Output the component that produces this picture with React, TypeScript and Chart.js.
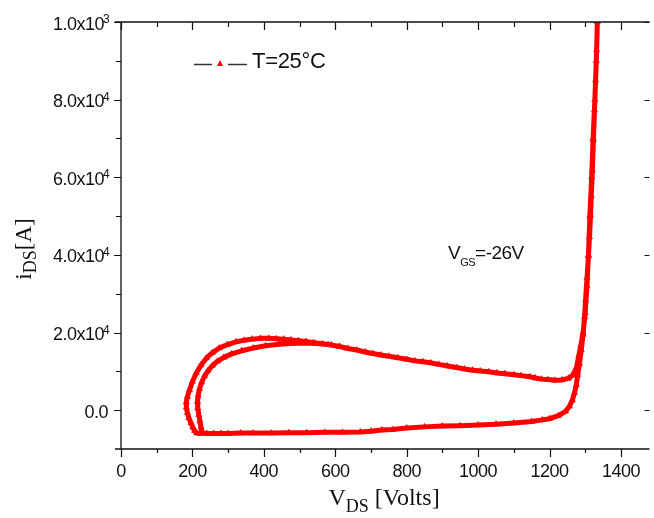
import React, { useEffect, useRef } from "react";
import { Chart, registerables } from "chart.js";

Chart.register(...registerables);

// ---------------- data ----------------
const seriesLabel = "T=25°C";
const annotationMain = "V";
const annotationSub = "GS";
const annotationRest = "=-26V";
const xTitleMain = "V";
const xTitleSub = "DS";
const xTitleRest = " [Volts]";
const yTitleMain = "i";
const yTitleSub = "DS";
const yTitleRest = "[A]";

// drain-source voltage [V] along the recorded loop
const vdsVolts = [
  612, 580, 545, 510, 475, 442, 405, 370, 338, 310, 288, 270, 256, 244, 234, 226, 220, 216, 214, 215, 218, 221, 224, 227,
  240, 260, 280, 300, 335, 370, 420, 470, 520, 570, 620, 670, 700, 730, 760, 800, 850, 900, 950, 1000, 1050, 1100, 1150, 1180, 1200, 1225, 1245, 1256, 1264, 1270, 1275, 1279, 1284, 1289, 1294, 1298, 1301, 1305, 1309, 1312, 1315, 1317, 1320, 1323, 1326, 1329, 1332, 1334,
  1331, 1327, 1322, 1318, 1313, 1309, 1305, 1300, 1294, 1288,
  1282, 1275, 1265, 1253, 1235, 1215, 1195, 1178, 1160, 1145, 1120, 1101, 1075, 1053, 1030, 1006, 985, 962, 940, 914, 890, 867, 845, 823, 800, 775, 750, 728, 705, 684, 660, 636, 612, 589, 565, 539, 518, 497, 476, 456, 435, 414, 390, 367, 345, 322, 298, 275, 256, 239, 224, 211, 200, 192, 186, 183, 183, 186, 190, 196, 201, 206, 212, 222,
];

// drain current [A] along the recorded loop
const idsAmps = [
  1.64e-4, 1.69e-4, 1.72e-4, 1.73e-4, 1.72e-4, 1.70e-4, 1.66e-4, 1.60e-4, 1.53e-4, 1.45e-4, 1.36e-4, 1.26e-4, 1.15e-4, 1.02e-4, 0.88e-4, 0.72e-4, 0.55e-4, 0.38e-4, 0.22e-4, 0.05e-4, -0.12e-4, -0.28e-4, -0.44e-4, -0.58e-4,
  -0.60e-4, -0.60e-4, -0.60e-4, -0.60e-4, -0.59e-4, -0.59e-4, -0.59e-4, -0.58e-4, -0.58e-4, -0.57e-4, -0.57e-4, -0.56e-4, -0.54e-4, -0.51e-4, -0.50e-4, -0.46e-4, -0.43e-4, -0.41e-4, -0.40e-4, -0.38e-4, -0.36e-4, -0.33e-4, -0.29e-4, -0.25e-4, -0.22e-4, -0.14e-4, -0.03e-4, 0.10e-4, 0.26e-4, 0.45e-4, 0.65e-4, 0.91e-4, 1.20e-4, 1.55e-4, 1.95e-4, 2.40e-4, 2.84e-4, 3.41e-4, 3.97e-4, 4.46e-4, 5.03e-4, 5.52e-4, 6.18e-4, 6.96e-4, 7.73e-4, 8.50e-4, 9.28e-4, 10.0e-4,
  9.0e-4, 8.0e-4, 7.0e-4, 6.0e-4, 5.0e-4, 4.0e-4, 3.2e-4, 2.5e-4, 2.0e-4, 1.68e-4,
  1.40e-4, 1.08e-4, 0.90e-4, 0.82e-4, 0.78e-4, 0.77e-4, 0.79e-4, 0.80e-4, 0.83e-4, 0.86e-4, 0.89e-4, 0.91e-4, 0.94e-4, 0.96e-4, 0.99e-4, 1.01e-4, 1.03e-4, 1.06e-4, 1.10e-4, 1.14e-4, 1.18e-4, 1.22e-4, 1.25e-4, 1.27e-4, 1.31e-4, 1.35e-4, 1.39e-4, 1.42e-4, 1.46e-4, 1.50e-4, 1.55e-4, 1.59e-4, 1.64e-4, 1.68e-4, 1.71e-4, 1.74e-4, 1.77e-4, 1.79e-4, 1.81e-4, 1.83e-4, 1.84e-4, 1.85e-4, 1.85e-4, 1.83e-4, 1.80e-4, 1.76e-4, 1.69e-4, 1.60e-4, 1.48e-4, 1.34e-4, 1.16e-4, 0.96e-4, 0.74e-4, 0.52e-4, 0.35e-4, 0.21e-4, 0.07e-4, -0.07e-4, -0.20e-4, -0.33e-4, -0.44e-4, -0.53e-4, -0.59e-4, -0.60e-4,
];

const xMin = 0;
const xMax = 1480;
const yMin = -1.0e-4;
const yMax = 1.0e-3;

const xTickValues = [0, 200, 400, 600, 800, 1000, 1200, 1400];
const xTickLabels = ["0", "200", "400", "600", "800", "1000", "1200", "1400"];
const xMinorValues = [100, 300, 500, 700, 900, 1100, 1300];

const yTickValues = [0, 2e-4, 4e-4, 6e-4, 8e-4, 1e-3];
const yTickMantissas = ["0.0", "2.0x10", "4.0x10", "6.0x10", "8.0x10", "1.0x10"];
const yTickExponents = ["", "4", "4", "4", "4", "3"];
const yMinorValues = [1e-4, 3e-4, 5e-4, 7e-4, 9e-4];

// ---------------- styles ----------------
const RED = "#ff0000";
const INK = "#111111";
const SANS = '"Liberation Sans", Arial, sans-serif';
const SERIF = '"Liberation Serif", "Times New Roman", serif';

const decorPlugin = {
  id: "decor",
  afterDraw(chart: any) {
    const { ctx, chartArea: ca, scales } = chart;
    const xs = scales.x;
    const ys = scales.y;
    ctx.save();

    // axis lines
    ctx.strokeStyle = INK;
    ctx.lineWidth = 1.3;
    ctx.beginPath();
    ctx.moveTo(ca.left, ca.top);
    ctx.lineTo(ca.left, ca.bottom);
    ctx.moveTo(ca.left - 6, ca.bottom);
    ctx.lineTo(ca.right, ca.bottom);
    ctx.moveTo(ca.left - 6, ca.top);
    ctx.lineTo(ca.right, ca.top);
    ctx.stroke();

    // ticks
    ctx.lineWidth = 1.2;
    ctx.beginPath();
    xTickValues.forEach((v) => {
      const px = Math.round(xs.getPixelForValue(v)) + 0.5;
      ctx.moveTo(px, ca.bottom);
      ctx.lineTo(px, ca.bottom + 8);
      ctx.moveTo(px, ca.top);
      ctx.lineTo(px, ca.top + 8);
    });
    xMinorValues.forEach((v) => {
      const px = Math.round(xs.getPixelForValue(v)) + 0.5;
      ctx.moveTo(px, ca.bottom);
      ctx.lineTo(px, ca.bottom + 4);
      ctx.moveTo(px, ca.top);
      ctx.lineTo(px, ca.top + 5);
    });
    yTickValues.forEach((v) => {
      const py = Math.round(ys.getPixelForValue(v)) + 0.5;
      ctx.moveTo(ca.left - 7, py);
      ctx.lineTo(ca.left, py);
      ctx.moveTo(ca.right - 5, py);
      ctx.lineTo(ca.right, py);
    });
    yMinorValues.forEach((v) => {
      const py = Math.round(ys.getPixelForValue(v)) + 0.5;
      ctx.moveTo(ca.left - 5, py);
      ctx.lineTo(ca.left, py);
    });
    ctx.stroke();

    // x tick labels
    ctx.fillStyle = INK;
    ctx.font = `18px ${SANS}`;
    ctx.textAlign = "center";
    ctx.textBaseline = "alphabetic";
    (ctx as any).letterSpacing = "-0.5px";
    xTickValues.forEach((v, i) => {
      ctx.fillText(xTickLabels[i], xs.getPixelForValue(v), ca.bottom + 28);
    });

    // y tick labels
    yTickValues.forEach((v, i) => {
      const py = ys.getPixelForValue(v);
      const exp = yTickExponents[i];
      ctx.textAlign = "right";
      ctx.font = `18px ${SANS}`;
      if (exp) {
        ctx.fillText(yTickMantissas[i], 104, py + 7.5);
        ctx.textAlign = "left";
        ctx.font = `12px ${SANS}`;
        ctx.fillText(exp, 103, py + 1);
      } else {
        ctx.fillText(yTickMantissas[i], 108, py + 7.5);
      }
    });

    // legend
    ctx.strokeStyle = "#333333";
    ctx.lineWidth = 1.4;
    ctx.beginPath();
    ctx.moveTo(194, 64.5);
    ctx.lineTo(212, 64.5);
    ctx.moveTo(228, 64.5);
    ctx.lineTo(247, 64.5);
    ctx.stroke();
    ctx.fillStyle = RED;
    ctx.beginPath();
    ctx.moveTo(220, 60);
    ctx.lineTo(223, 66);
    ctx.lineTo(217, 66);
    ctx.closePath();
    ctx.fill();
    ctx.fillStyle = INK;
    ctx.textAlign = "left";
    ctx.font = `22px ${SANS}`;
    (ctx as any).letterSpacing = "-0.3px";
    ctx.fillText(seriesLabel, 252, 68);

    // annotation V_GS=-26V
    (ctx as any).letterSpacing = "-0.5px";
    ctx.font = `19px ${SANS}`;
    let ax = 448;
    ctx.fillText(annotationMain, ax, 259);
    ax += ctx.measureText(annotationMain).width;
    ctx.font = `11px ${SANS}`;
    ctx.fillText(annotationSub, ax, 266);
    ax += ctx.measureText(annotationSub).width;
    ctx.font = `19px ${SANS}`;
    ctx.fillText(annotationRest, ax, 259);

    // x title
    (ctx as any).letterSpacing = "0px";
    ctx.font = `24px ${SERIF}`;
    const w1 = ctx.measureText(xTitleMain).width;
    const w3 = ctx.measureText(xTitleRest).width;
    ctx.font = `18px ${SERIF}`;
    const w2 = ctx.measureText(xTitleSub).width;
    let tx = 384 - (w1 + w2 + w3) / 2;
    ctx.font = `24px ${SERIF}`;
    ctx.fillText(xTitleMain, tx, 505);
    tx += w1;
    ctx.font = `18px ${SERIF}`;
    ctx.fillText(xTitleSub, tx, 512);
    tx += w2;
    ctx.font = `24px ${SERIF}`;
    ctx.fillText(xTitleRest, tx, 505);

    // y title (rotated)
    ctx.save();
    ctx.translate(31, 249);
    ctx.rotate(-Math.PI / 2);
    ctx.font = `23px ${SERIF}`;
    const u1 = ctx.measureText(yTitleMain).width;
    const u3 = ctx.measureText(yTitleRest).width;
    ctx.font = `18px ${SERIF}`;
    const u2 = ctx.measureText(yTitleSub).width;
    let ty = -(u1 + u2 + u3) / 2;
    ctx.font = `23px ${SERIF}`;
    ctx.fillText(yTitleMain, ty, 0);
    ty += u1;
    ctx.font = `18px ${SERIF}`;
    ctx.fillText(yTitleSub, ty, 5);
    ty += u2;
    ctx.font = `23px ${SERIF}`;
    ctx.fillText(yTitleRest, ty, 0);
    ctx.restore();

    ctx.restore();
  },
};

export default function App() {
  const canvasRef = useRef<HTMLCanvasElement | null>(null);

  useEffect(() => {
    document.body.style.margin = "0";
    const canvas = canvasRef.current;
    if (!canvas) return;
    const chart = new Chart(canvas, {
      type: "scatter",
      data: {
        datasets: [
          {
            label: seriesLabel,
            data: vdsVolts.map((v, i) => ({ x: v, y: idsAmps[i] })),
            showLine: true,
            borderColor: RED,
            borderWidth: 5,
            borderJoinStyle: "round",
            borderCapStyle: "round",
            pointStyle: "triangle",
            pointRadius: 3.6,
            pointBackgroundColor: RED,
            pointBorderColor: RED,
            pointBorderWidth: 0.5,
            tension: 0,
          },
        ],
      },
      options: {
        responsive: false,
        animation: false,
        layout: { padding: { left: 121, top: 22, right: 0, bottom: 69 } },
        scales: {
          x: { type: "linear", min: xMin, max: xMax, display: false },
          y: { type: "linear", min: yMin, max: yMax, display: false },
        },
        plugins: {
          legend: { display: false },
          tooltip: { enabled: false },
        },
      },
      plugins: [decorPlugin],
    });
    return () => chart.destroy();
  }, []);

  return (
    <div style={{ width: 654, height: 518, background: "#ffffff" }}>
      <canvas ref={canvasRef} width={654} height={518} />
    </div>
  );
}
